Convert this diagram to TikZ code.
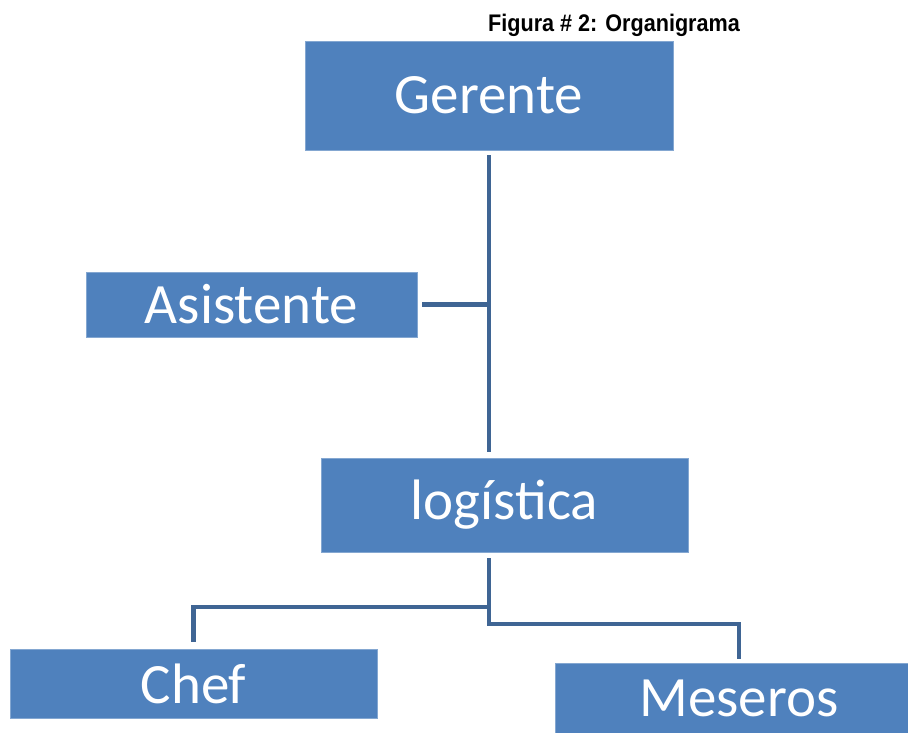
\documentclass[tikz,border=0pt]{standalone}
\usepackage{fontspec}
\setmainfont{Carlito}
\newfontfamily\titlefont[FakeStretch=0.9]{Liberation Sans}
\definecolor{boxblue}{HTML}{4F81BD}
\definecolor{lineblue}{HTML}{3F6594}
\tikzset{
  orgbox/.style={fill=boxblue, draw=boxblue!70!white, line width=0.6pt,
    text=white, inner sep=0pt, font=\fontsize{57}{60}\selectfont},
  orgline/.style={draw=lineblue, line width=4.5pt}
}
\begin{document}
\begin{tikzpicture}[x=1pt, y=-1pt]
\useasboundingbox (0,0) rectangle (908,732);
\clip (0,0) rectangle (908,732);

% title
\node[anchor=base, font=\titlefont\bfseries\fontsize{24}{26}\selectfont] (title) at (614,31) {Figura \# 2: Organigrama};

% boxes
\node[orgbox, minimum width=368pt, minimum height=109pt] (ger) at (489,95.5) {Gerente};
\node[orgbox, minimum width=331pt, minimum height=65pt] (asis) at (251.5,304.5) {Asistente};
\node[orgbox, minimum width=367pt, minimum height=94pt] (logi) at (504.5,505) {logística};
\node[orgbox, minimum width=367pt, minimum height=69pt] (chef) at (193.5,683.5) {Chef};
\node[orgbox, minimum width=368pt, minimum height=70pt] (mes) at (739,698) {Meseros};

% connectors
\coordinate (trunk) at (489,452);
\coordinate (fork) at (489,558);
\draw[orgline] ([yshift=-5pt]ger.south) -- (trunk);
\draw[orgline] ([xshift=5pt]asis.east) -- (asis.east -| trunk);
\draw[orgline] (fork) -- ([yshift=-66pt]fork) -| ([yshift=4pt]mes.north);
\draw[orgline] ([yshift=-49pt]fork) -| ([yshift=7pt]chef.north);

\end{tikzpicture}
\end{document}
